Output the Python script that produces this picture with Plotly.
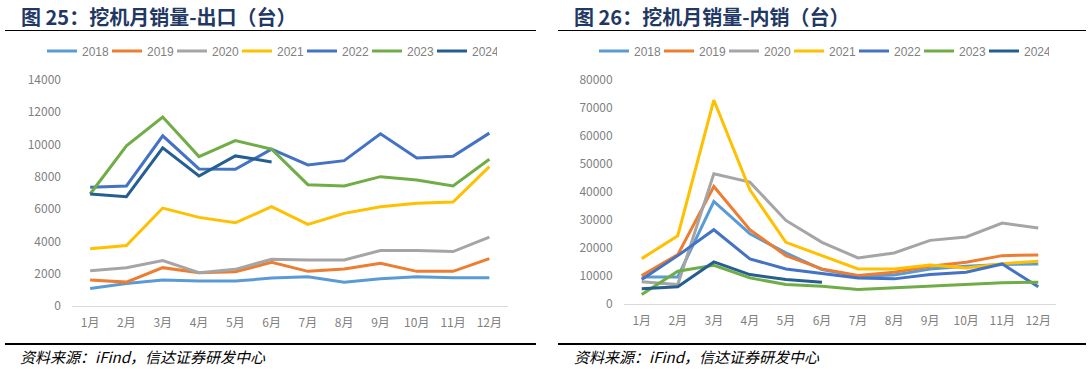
import plotly.graph_objects as go

months = ["1月", "2月", "3月", "4月", "5月", "6月", "7月", "8月", "9月", "10月", "11月", "12月"]
years = ["2018", "2019", "2020", "2021", "2022", "2023", "2024"]
colors = ["#5B9BD5", "#ED7D31", "#A5A5A5", "#FFC000", "#4472C4", "#70AD47", "#255E91"]

# 出口
export_2018 = [1083, 1396, 1604, 1542, 1542, 1729, 1813, 1479, 1688, 1813, 1750, 1750]
export_2019 = [1604, 1479, 2375, 2063, 2125, 2708, 2146, 2292, 2646, 2146, 2146, 2938]
export_2020 = [2188, 2375, 2813, 2063, 2271, 2896, 2854, 2854, 3438, 3438, 3375, 4271]
export_2021 = [3540, 3751, 6068, 5490, 5155, 6149, 5056, 5739, 6149, 6360, 6441, 8634]
export_2022 = [7354, 7435, 10540, 8490, 8470, 9714, 8739, 9006, 10665, 9174, 9279, 10708]
export_2023 = [6938, 9919, 11702, 9255, 10248, 9714, 7516, 7435, 8012, 7807, 7435, 9093]
export_2024 = [6938, 6770, 9795, 8056, 9298, 8925]

# 内销
domestic_2018 = [9500, 9500, 36400, 24900, 18040, 12100, 9720, 10200, 12340, 13280, 13880, 14120]
domestic_2019 = [9960, 17440, 41750, 26330, 17080, 12340, 9960, 11140, 13280, 14700, 17080, 17320]
domestic_2020 = [7720, 6760, 46260, 43300, 29640, 21820, 16260, 18040, 22530, 23730, 28720, 26940]
domestic_2021 = [16014, 24200, 72600, 40570, 21820, 17080, 12340, 12340, 13770, 12700, 14230, 15060]
domestic_2022 = [8540, 17080, 26330, 15900, 12340, 10680, 9140, 8790, 10320, 11140, 14120, 5940]
domestic_2023 = [3200, 11500, 13630, 9140, 6760, 6170, 4980, 5580, 6170, 6760, 7370, 7580]
domestic_2024 = [5230, 5940, 14840, 10320, 8540, 7580]

export_series = [export_2018, export_2019, export_2020, export_2021, export_2022, export_2023, export_2024]
domestic_series = [domestic_2018, domestic_2019, domestic_2020, domestic_2021, domestic_2022, domestic_2023, domestic_2024]

W, H = 1088, 369
def px(x):
    return x / W
def py(y):
    return 1 - y / H

fig = go.Figure()
for yr, c, vals in zip(years, colors, export_series):
    fig.add_trace(go.Scatter(x=months[:len(vals)], y=vals, name=yr, mode="lines",
                             line=dict(color=c, width=3), xaxis="x", yaxis="y", legend="legend"))
for yr, c, vals in zip(years, colors, domestic_series):
    fig.add_trace(go.Scatter(x=months[:len(vals)], y=vals, name=yr, mode="lines",
                             line=dict(color=c, width=3), xaxis="x2", yaxis="y2", legend="legend2"))

tickfont = dict(family="Noto Sans CJK SC, Liberation Sans", size=12, color="#7F7F7F")
xcommon = dict(type="category", categoryorder="array", categoryarray=months, range=[-0.5, 11.5],
               showgrid=False, showline=True, linecolor="#D9D9D9", linewidth=1, ticks="",
               tickfont=tickfont, ticklabelstandoff=6, zeroline=False, fixedrange=True, automargin=False)
ycommon = dict(showgrid=False, showline=False, zeroline=False, ticks="", tickfont=tickfont,
               ticklabelstandoff=10, fixedrange=True, tickformat="d", automargin=False)

legfont = dict(family="Liberation Sans, Arial", size=12, color="#7F7F7F")
fig.update_layout(
    width=W, height=H,
    margin=dict(l=0, r=0, t=0, b=0, pad=0, autoexpand=False),
    paper_bgcolor="white", plot_bgcolor="white",
    xaxis=dict(domain=[px(72), px(507.5)], anchor="y", **xcommon),
    yaxis=dict(domain=[py(306), py(80)], anchor="x", range=[0, 14000], dtick=2000, **ycommon),
    xaxis2=dict(domain=[px(623.7), px(1056.3)], anchor="y2", **xcommon),
    yaxis2=dict(domain=[py(303.5), py(79.3)], anchor="x2", range=[0, 80000], dtick=10000, **ycommon),
    legend=dict(orientation="h", x=px(42), y=py(51), xanchor="left", yanchor="middle",
                font=legfont, bgcolor="rgba(0,0,0,0)", entrywidth=20, tracegroupgap=0, itemclick=False),
    legend2=dict(orientation="h", x=px(594), y=py(51), xanchor="left", yanchor="middle",
                 font=legfont, bgcolor="rgba(0,0,0,0)", entrywidth=20, tracegroupgap=0, itemclick=False),
    showlegend=True,
)

title_font = dict(family="Noto Sans CJK SC", size=20, color="#1F3864")
src_font = dict(family="Noto Sans CJK SC", size=15, color="#000000")
annotations = [
    dict(text="<b>图 25：挖机月销量-出口（台）</b>", x=px(19), y=py(16), xanchor="left", yanchor="middle",
         xref="paper", yref="paper", showarrow=False, font=title_font),
    dict(text="<b>图 26：挖机月销量-内销（台）</b>", x=px(572), y=py(16), xanchor="left", yanchor="middle",
         xref="paper", yref="paper", showarrow=False, font=title_font),
    dict(text="<i>资料来源：iFind，信达证券研发中心</i>", x=px(18), y=py(356), xanchor="left", yanchor="middle",
         xref="paper", yref="paper", showarrow=False, font=src_font),
    dict(text="<i>资料来源：iFind，信达证券研发中心</i>", x=px(572), y=py(356), xanchor="left", yanchor="middle",
         xref="paper", yref="paper", showarrow=False, font=src_font),
]
fig.update_layout(annotations=annotations)

shapes = []
for x0, x1 in [(5, 536), (558, 1086)]:
    shapes.append(dict(type="line", xref="paper", yref="paper", x0=px(x0), x1=px(x1), y0=py(30.5), y1=py(30.5),
                       line=dict(color="#000000", width=1.2)))
    shapes.append(dict(type="line", xref="paper", yref="paper", x0=px(x0), x1=px(x1), y0=py(344), y1=py(344),
                       line=dict(color="#000000", width=2)))
fig.update_layout(shapes=shapes)

fig.write_html("out.html", config={"displayModeBar": False, "staticPlot": True},
               post_script="document.body.style.margin='0';document.body.style.padding='0';document.body.style.overflow='hidden';")
